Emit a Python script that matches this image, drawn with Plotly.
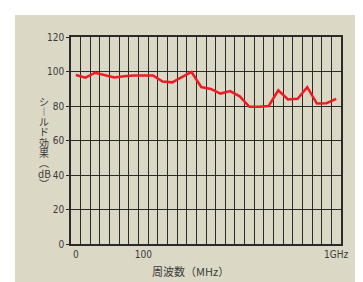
import plotly.graph_objects as go

# Frequency columns (28 equally spaced measurement columns)
columns = [f"c{i}" for i in range(28)]
tick_cols = ["c0", "c7", "c27"]
tick_labels = ["0", "100", "1GHz"]
shield_db = [98.0, 96.4, 99.3, 97.8, 96.5, 97.2, 97.7, 97.7, 97.7, 94.2,
             93.7, 96.7, 99.7, 91.0, 89.9, 87.2, 88.6, 85.6, 79.5, 79.6,
             80.0, 89.1, 83.8, 84.2, 90.9, 81.4, 81.6, 84.1]
y_ticks = [0, 20, 40, 60, 80, 100, 120]
y_title_chars = ["シ", "︱", "ル", "ド", "効", "果", "︵", "dB", "︶"]
x_title = "周波数（MHz）"

BG = "#dcd8c6"
GRID = "#2a2a2a"
TXT = "#3a3a3a"
TICKFONT = dict(family="DejaVu Sans Condensed, Liberation Sans Narrow, sans-serif", size=10, color=TXT)

fig = go.Figure()
fig.add_trace(go.Scatter(
    x=columns, y=shield_db, mode="lines",
    line=dict(color="#ec1c24", width=2.5), hoverinfo="skip", showlegend=False,
))

W, H = 363, 282
L, R, T, B = 63, 30, 29, 46
pw, ph = W - L - R, H - T - B

def px(xp):
    return (xp - L) / pw

def py(yp):
    return (H - B - yp) / ph

fig.add_shape(type="rect", xref="paper", yref="paper",
              x0=px(7), x1=px(W + 2), y0=py(H + 2), y1=py(7),
              fillcolor=BG, line=dict(width=0), layer="below")

fig.update_layout(
    width=W, height=H,
    margin=dict(l=L, r=R, t=T, b=B),
    paper_bgcolor="white", plot_bgcolor="white",
    xaxis=dict(
        type="category", categoryorder="array", categoryarray=columns,
        range=[-0.5, 27.5], tickson="boundaries",
        tickmode="array", tickvals=columns,
        ticktext=[tick_labels[tick_cols.index(c)] if c in tick_cols else "" for c in columns],
        tickangle=0,
        showgrid=True, gridcolor=GRID, gridwidth=1,
        ticks="", tickfont=TICKFONT,
        showline=True, linecolor=GRID, linewidth=1.5, mirror=True,
        zeroline=False, fixedrange=True,
    ),
    yaxis=dict(
        range=[0, 120], tickvals=y_ticks, ticktext=[str(v) for v in y_ticks],
        showgrid=True, gridcolor=GRID, gridwidth=1,
        ticks="outside", ticklen=3, tickcolor=GRID, tickfont=TICKFONT,
        showline=True, linecolor=GRID, linewidth=1.5, mirror=True,
        zeroline=False, fixedrange=True,
    ),
    font=dict(family="Noto Sans CJK JP", color=TXT),
)

fig.add_annotation(
    text=x_title, xref="paper", yref="paper",
    x=px(182), y=py(263), xanchor="center", yanchor="middle",
    showarrow=False, font=dict(family="Noto Sans CJK JP", size=11, color=TXT),
)

y0, step = 93, 10.3
for i, ch in enumerate(y_title_chars):
    fig.add_annotation(
        text=ch, xref="paper", yref="paper",
        x=px(36), y=py(y0 + i * step), xanchor="center", yanchor="middle",
        showarrow=False, align="center", borderpad=0,
        font=dict(family="Noto Sans CJK JP", size=10, color=TXT),
    )

fig.write_html("out.html")
